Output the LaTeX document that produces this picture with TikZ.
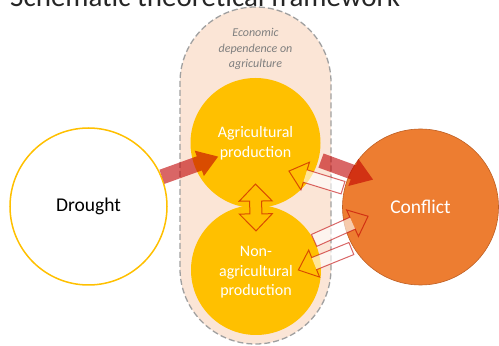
\documentclass[tikz,border=0pt]{standalone}
\usepackage{fontspec}
\setmainfont{Carlito}
\usetikzlibrary{calc}

\definecolor{agriyellow}{RGB}{255,192,0}
\definecolor{conflictorange}{RGB}{237,125,49}
\definecolor{conflictline}{RGB}{190,95,35}
\definecolor{peach}{RGB}{251,229,214}
\definecolor{dashgray}{RGB}{160,160,160}
\definecolor{arrowred}{RGB}{192,0,0}
\definecolor{notegray}{RGB}{127,127,127}

\tikzstyle{capsule} = [draw=dashgray, fill=peach, line width=1.3pt, dash pattern=on 6pt off 3pt, rectangle, rounded corners=75.5pt, minimum width=151pt, minimum height=337pt, inner sep=0pt]
\tikzstyle{sector} = [circle, fill=agriyellow, minimum size=130pt, inner sep=0pt, text=white, align=center, font=\fontsize{16}{19.5}\selectfont]
\tikzstyle{shock} = [circle, draw=agriyellow, line width=1.5pt, fill=white, minimum size=157pt, inner sep=0pt, font=\fontsize{19.5}{23}\selectfont]
\tikzstyle{outcome} = [circle, draw=conflictline, line width=0.6pt, fill=conflictorange, minimum size=156pt, inner sep=0pt, text=white, font=\fontsize{19.5}{23}\selectfont]
\tikzstyle{note} = [text=notegray, align=center, inner sep=0pt, font=\fontsize{12}{15.5}\selectfont\itshape]
\tikzstyle{heading} = [inner sep=0pt, text=black!85, font=\fontsize{29}{34}\selectfont]
\tikzstyle{solidlink} = [fill=arrowred, fill opacity=0.6]
\tikzstyle{hollowlink} = [draw=arrowred, draw opacity=0.6, line width=1pt, line join=miter]
\tikzstyle{shaftfill} = [fill=white, fill opacity=0.6]

% block arrow: style, tail, tip, half shaft, half head, head length
\newcommand{\blockarrow}[6]{%
  \coordinate (ba-h) at ($(#3)!#6!(#2)$);
  \path[#1] ($(#2)!#4!90:(#3)$) -- ($(ba-h)!#4!90:(#3)$) -- ($(ba-h)!#5!90:(#3)$) -- (#3)
    -- ($(ba-h)!#5!-90:(#3)$) -- ($(ba-h)!#4!-90:(#3)$) -- ($(#2)!#4!-90:(#3)$) -- cycle;}
\newcommand{\hollowarrow}[5]{%
  \coordinate (ba-h) at ($(#2)!#5!(#1)$);
  \fill[shaftfill] ($(#1)!#3!90:(#2)$) -- ($(ba-h)!#3!90:(#2)$) -- ($(ba-h)!#3!-90:(#2)$) -- ($(#1)!#3!-90:(#2)$) -- cycle;
  \blockarrow{hollowlink}{#1}{#2}{#3}{#4}{#5}}
% double headed block arrow between two tips
\newcommand{\twowayarrow}[6]{%
  \coordinate (ta-a) at ($(#2)!#6!(#3)$);
  \coordinate (ta-b) at ($(#3)!#6!(#2)$);
  \path[#1] (#2) -- ($(ta-a)!#5!90:(#3)$) -- ($(ta-a)!#4!90:(#3)$) -- ($(ta-b)!#4!-90:(#2)$) -- ($(ta-b)!#5!-90:(#2)$)
    -- (#3) -- ($(ta-b)!#5!90:(#2)$) -- ($(ta-b)!#4!90:(#2)$) -- ($(ta-a)!#4!-90:(#3)$) -- ($(ta-a)!#5!-90:(#3)$) -- cycle;}

\begin{document}
\begin{tikzpicture}[x=1pt, y=1pt]
	\useasboundingbox (0,0) rectangle (499,346);
	\clip (0,0) rectangle (499,346);

	\node[heading, anchor=base west] (title) at (10,339) {Schematic theoretical framework};

	\node[capsule] (dep) at (255.5,170.5) {};
	\node[note, below=22pt] (deplabel) at (dep.north) {Economic\\dependence on\\agriculture};

	\node[sector] (agri) at (255.5,203) {Agricultural\\production};
	\node[sector] (nonagri) at (256,76) {\\[-4pt]Non-\\agricultural\\production};
	\node[shock] (drought) at (88.5,139.5) {Drought};
	\node[outcome] (conflict) at (420.5,139) {Conflict};

	% drought hits agriculture, agriculture feeds conflict
	\coordinate (d-tail) at (drought.22);
	\coordinate (d-tip) at ($(agri.center)!0.61!(agri.200)$);
	\coordinate (a-tail) at ($(agri.center)!1.04!(agri.-15)$);
	\coordinate (a-tip) at ($(conflict.center)!0.7!(conflict.150)$);
	\blockarrow{solidlink}{d-tail}{d-tip}{7.5pt}{13.5pt}{20pt}
	\blockarrow{solidlink}{a-tail}{a-tip}{7.5pt}{14.5pt}{21pt}

	% feedback links
	\coordinate (c-tail) at ($(conflict.center)!1.02!(conflict.166)$);
	\coordinate (c-tip) at ($(agri.center)!0.67!(agri.-40)$);
	\coordinate (n-tail) at (nonagri.27);
	\coordinate (n-tip) at ($(conflict.center)!0.68!(conflict.190)$);
	\coordinate (cn-tail) at ($(conflict.center)!1.03!(conflict.211)$);
	\coordinate (cn-tip) at ($(nonagri.center)!0.65!(nonagri.0)$);
	\hollowarrow{c-tail}{c-tip}{6.5pt}{14.5pt}{17pt}
	\hollowarrow{n-tail}{n-tip}{6.5pt}{14.5pt}{17pt}
	\hollowarrow{cn-tail}{cn-tip}{6.5pt}{14.5pt}{17pt}

	\coordinate (s-top) at ($(agri.center)!0.63!(agri.-90)$);
	\coordinate (s-bot) at ($(nonagri.center)!0.6!(nonagri.90)$);
	\twowayarrow{hollowlink}{s-top}{s-bot}{6pt}{16.5pt}{17pt}
\end{tikzpicture}
\end{document}
